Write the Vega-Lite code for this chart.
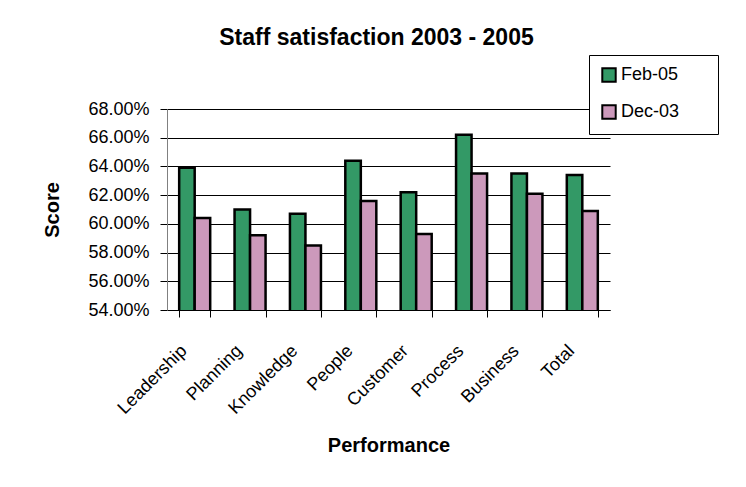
{
  "$schema": "https://vega.github.io/schema/vega-lite/v6.json",
  "width": 443,
  "height": 201,
  "autosize": "none",
  "padding": {"left": 167, "top": 109, "right": 136, "bottom": 177},
  "background": "white",
  "title": {
    "text": "Staff satisfaction 2003 - 2005",
    "font": "Liberation Sans",
    "fontSize": 23,
    "fontWeight": "bold",
    "color": "black",
    "anchor": "middle",
    "dx": -12,
    "offset": 5
  },
  "data": {
    "values": [
      {"category": "Leadership", "period": "Feb-05", "score": 0.639},
      {"category": "Leadership", "period": "Dec-03", "score": 0.604},
      {"category": "Planning", "period": "Feb-05", "score": 0.610},
      {"category": "Planning", "period": "Dec-03", "score": 0.592},
      {"category": "Knowledge", "period": "Feb-05", "score": 0.607},
      {"category": "Knowledge", "period": "Dec-03", "score": 0.585},
      {"category": "People", "period": "Feb-05", "score": 0.644},
      {"category": "People", "period": "Dec-03", "score": 0.616},
      {"category": "Customer", "period": "Feb-05", "score": 0.622},
      {"category": "Customer", "period": "Dec-03", "score": 0.593},
      {"category": "Process", "period": "Feb-05", "score": 0.662},
      {"category": "Process", "period": "Dec-03", "score": 0.635},
      {"category": "Business", "period": "Feb-05", "score": 0.635},
      {"category": "Business", "period": "Dec-03", "score": 0.621},
      {"category": "Total", "period": "Feb-05", "score": 0.634},
      {"category": "Total", "period": "Dec-03", "score": 0.609}
    ]
  },
  "mark": {"type": "bar", "stroke": "black", "strokeWidth": 2.5, "clip": true},
  "encoding": {
    "x": {
      "field": "category",
      "type": "nominal",
      "sort": null,
      "scale": {"paddingInner": 0.44, "paddingOuter": 0.22},
      "axis": {
        "title": "Performance",
        "titleFont": "Liberation Sans",
        "titleFontSize": 20,
        "titleFontWeight": "bold",
        "titleColor": "black",
        "titlePadding": 18,
        "labelAngle": -45,
        "labelAlign": "right",
        "labelBaseline": "middle",
        "labelFont": "Liberation Sans",
        "labelFontSize": 18,
        "labelColor": "black",
        "labelPadding": 31,
        "labelOffset": -11,
        "tickBand": "extent",
        "tickColor": "black",
        "tickSize": 7,
        "domainColor": "black",
        "grid": false
      }
    },
    "xOffset": {"field": "period", "type": "nominal", "sort": ["Feb-05", "Dec-03"]},
    "y": {
      "field": "score",
      "type": "quantitative",
      "scale": {"domain": [0.54, 0.68], "zero": false, "nice": false},
      "axis": {
        "title": "Score",
        "titleFont": "Liberation Sans",
        "titleFontSize": 20,
        "titleFontWeight": "bold",
        "titleColor": "black",
        "titlePadding": 25,
        "format": ".2%",
        "values": [0.54, 0.56, 0.58, 0.60, 0.62, 0.64, 0.66, 0.68],
        "labelFont": "Liberation Sans",
        "labelFontSize": 18,
        "labelColor": "black",
        "labelPadding": 11,
        "tickColor": "black",
        "tickSize": 7,
        "domainColor": "#808080",
        "grid": true,
        "gridColor": "black",
        "gridOpacity": 1
      }
    },
    "color": {
      "field": "period",
      "type": "nominal",
      "sort": ["Feb-05", "Dec-03"],
      "scale": {"domain": ["Feb-05", "Dec-03"], "range": ["#339966", "#cc99bb"]},
      "legend": {
        "title": "\u00a0",
        "titleOrient": "right",
        "titlePadding": 28,
        "titleFontSize": 4,
        "orient": "none",
        "legendX": 422,
        "legendY": -54,
        "symbolType": "square",
        "symbolSize": 180,
        "symbolStrokeColor": "black",
        "symbolStrokeWidth": 2,
        "labelFont": "Liberation Sans",
        "labelFontSize": 18,
        "labelColor": "black",
        "labelOffset": 3,
        "rowPadding": 15,
        "padding": 11,
        "strokeColor": "black",
        "fillColor": "white"
      }
    }
  },
  "config": {
    "view": {"stroke": null},
    "axis": {"domainWidth": 1}
  }
}
